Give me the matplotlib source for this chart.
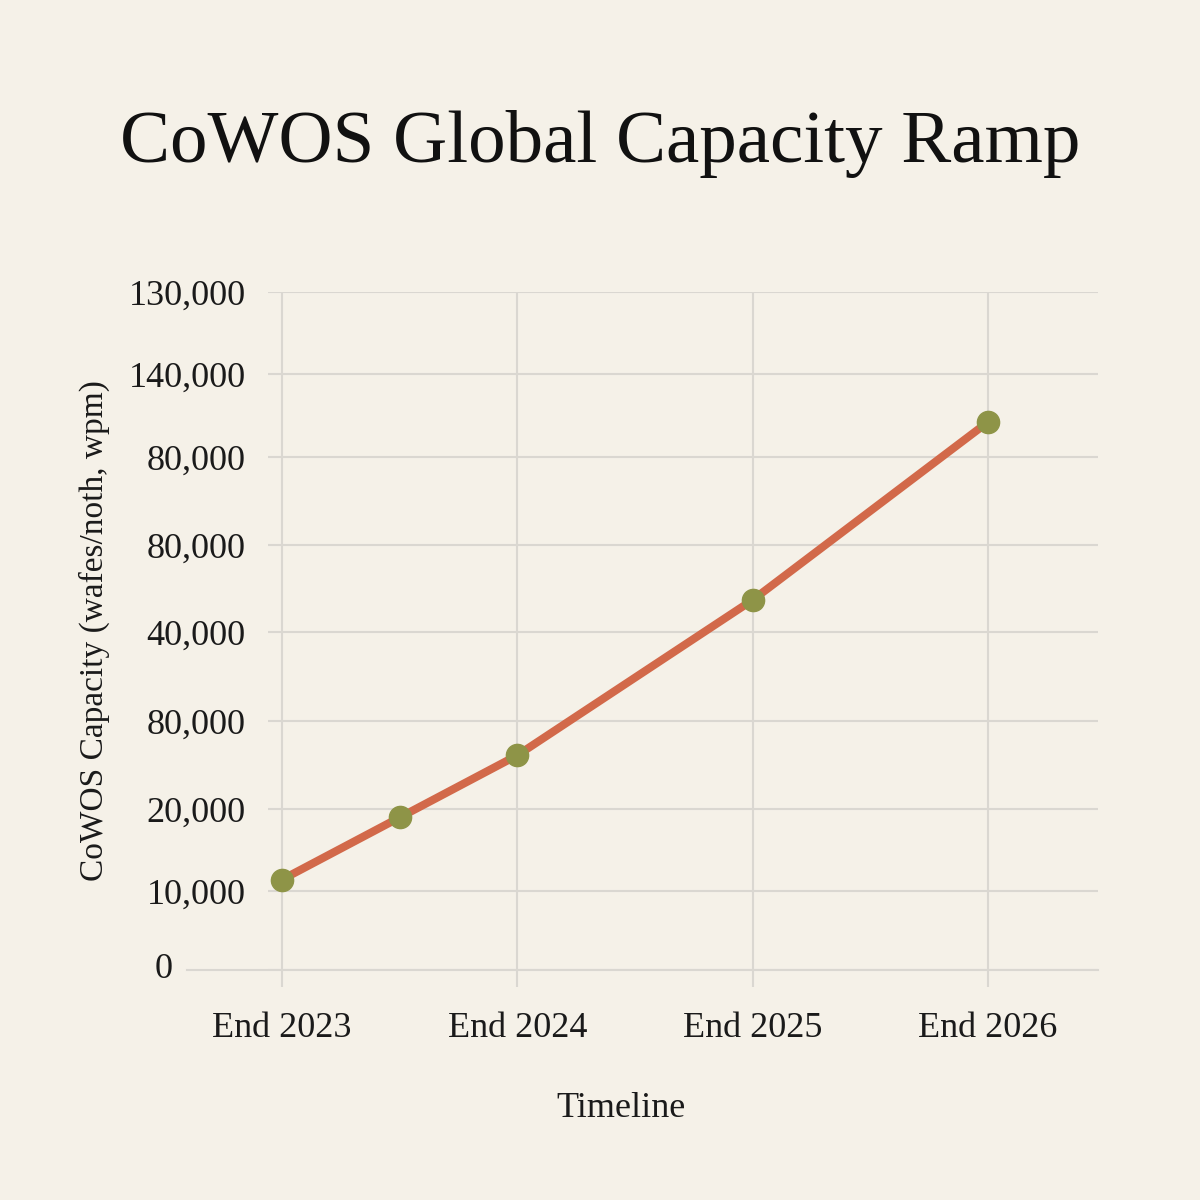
import numpy as np
import matplotlib
matplotlib.use('Agg')
import matplotlib.pyplot as plt

# data
periods = [2023.0, 2023.5, 2024.0, 2025.0, 2026.0]
capacity = [16000, 27000, 38000, 65500, 97000]

xtick_pos = [2023.0, 2024.0, 2025.0, 2026.0]
xtick_labels = ["End 2023", "End 2024", "End 2025", "End 2026"]

ytick_pos = [0, 14000, 28500, 44000, 59800, 75200, 90800, 105500, 120000]
ytick_labels = ["0", "10,000", "20,000", "80,000", "40,000", "80,000",
                "80,000", "140,000", "130,000"]

bg = "#F5F1E8"
grid_col = "#DAD7D1"
line_col = "#D2694A"
dot_col = "#8E9447"
txt_col = "#1a1a1a"

plt.rcParams['font.family'] = ['Liberation Serif', 'DejaVu Serif']

fig = plt.figure(figsize=(12, 12), dpi=100, facecolor=bg)
ax = fig.add_axes([0.2233, 0.1917, 0.6917, 0.565])
ax.set_facecolor(bg)

ax.plot(periods, capacity, color=line_col, lw=5.8, solid_capstyle='round', zorder=3)
ax.plot(periods, capacity, 'o', color=dot_col, ms=16, zorder=4)

ax.set_xlim(2022.94, 2026.467)
ax.set_ylim(0, 120000)

ax.set_xticks(xtick_pos)
ax.set_xticklabels(xtick_labels, fontsize=26)
ax.set_yticks(ytick_pos)
# the "0" label sits further left than the rest, drawn separately below
ax.set_yticklabels([""] + ytick_labels[1:], fontsize=26)
ax.text(-0.115, ytick_pos[0], ytick_labels[0], transform=ax.get_yaxis_transform(),
        ha='right', va='center', fontsize=26, color=txt_col)

ax.tick_params(axis='x', length=12, width=1.5, color=grid_col, pad=18, labelcolor=txt_col)
ax.tick_params(axis='y', length=0, pad=16, labelcolor=txt_col)

ax.grid(True, color=grid_col, lw=1.5)
ax.set_axisbelow(True)
for s in ax.spines.values():
    s.set_visible(False)

# baseline that runs out under the tick labels
ax.plot([-0.098, 1.0], [0, 0], transform=ax.get_yaxis_transform(), color=grid_col,
        lw=1.5, clip_on=False, zorder=1)

ax.set_xlabel("Timeline", fontsize=26, color=txt_col)
ax.xaxis.set_label_coords(0.425, -0.18)
ax.set_ylabel("CoWOS Capacity (wafes/noth, wpm)", fontsize=24, color=txt_col)
ax.yaxis.set_label_coords(-0.19, 0.5)

fig.text(0.5, 0.88, "CoWOS Global Capacity Ramp", fontsize=54, ha='center', va='center',
         color='#111111')

fig.savefig("out.png", dpi=100, facecolor=bg)
